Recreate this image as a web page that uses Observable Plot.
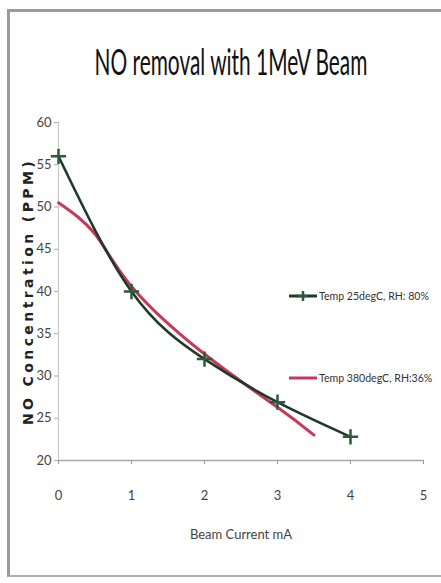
<!DOCTYPE html>
<html><head><meta charset="utf-8">
<script src="https://cdn.jsdelivr.net/npm/d3@7"></script>
<script src="https://cdn.jsdelivr.net/npm/@observablehq/plot@0.6"></script>
<style>
body{margin:0;background:#fff;width:441px;height:583px;overflow:hidden;position:relative;font-family:Lato,sans-serif;}
#frame{position:absolute;left:7px;top:9px;width:440px;height:568px;border-left:3px solid #9a9a9a;border-top:3px solid #9a9a9a;border-bottom:2px solid #b0b0b0;box-sizing:border-box;}
#title{position:absolute;left:0;width:441px;top:39px;text-align:center;font-size:36px;color:#111;transform:scaleX(0.58);transform-origin:225px 0;white-space:nowrap;}
#chart{position:absolute;left:0;top:100px;}
.leg{position:absolute;font-size:12px;color:#333;white-space:nowrap;transform:scaleX(0.88);transform-origin:0 0;}
.ylab text{letter-spacing:3.4px;}
</style></head>
<body>
<div id="frame"></div>
<div id="title">NO removal with 1MeV Beam</div>
<div id="chart"></div>
<div id="legend"></div>
<script>
const seriesNames = ["Temp 25degC, RH: 80%", "Temp 380degC, RH:36%"];
const greenX = [0, 1, 2, 3, 4];
const greenY = [56, 40, 32, 26.9, 22.8];
const redX = [0, 0.5, 1, 2, 3, 3.5];
const redY = [50.5, 46.8, 40.6, 32.6, 26.3, 23];
const xTicks = [0, 1, 2, 3, 4, 5];
const yTicks = [20, 25, 30, 35, 40, 45, 50, 55, 60];
const colors = ["#1e3a2a", "#c63a58"];

const green = greenX.map((x, i) => ({x, y: greenY[i]}));
const red = redX.map((x, i) => ({x, y: redY[i]}));

const plot = Plot.plot({
  width: 441, height: 483,
  marginLeft: 58, marginRight: 18, marginTop: 22, marginBottom: 123,
  style: {fontFamily: 'Lato, sans-serif', background: "transparent"},
  x: {domain: [0, 5]},
  y: {domain: [20, 60]},
  marks: [
    Plot.ruleY([20], {stroke: "#a8a8a8", strokeWidth: 1.5}),
    Plot.ruleX([0], {stroke: "#c8c8c8", strokeWidth: 1.2}),
    Plot.axisX({ticks: xTicks, tickFormat: d3.format("d"), tickSize: 4, tickPadding: 26, fontSize: 13, color: "#444", label: "Beam Current mA", labelAnchor: "center", labelOffset: 78, labelArrow: "none", stroke: "#999"}),
    Plot.axisY({ticks: yTicks, tickSize: 4, tickPadding: 3, fontSize: 13, color: "#444", label: null, stroke: "#aaa"}),
    Plot.text(["NO Concentration (PPM)"], {className: "ylab", frameAnchor: "left", dx: -30, rotate: -90, textAnchor: "middle", fontSize: 14, fontWeight: "bold", fill: "#222", fontFamily: "DejaVu Sans, sans-serif"}),
    Plot.line(red, {x: "x", y: "y", stroke: colors[1], strokeWidth: 3, curve: "natural"}),
    Plot.line(green, {x: "x", y: "y", stroke: colors[0], strokeWidth: 2.6, curve: "natural"}),
    Plot.dot(green, {x: "x", y: "y", symbol: "plus", r: 5, stroke: "#2d5a3c", strokeWidth: 2.5})
  ]
});
document.getElementById("chart").appendChild(plot);

// legend
const leg = document.getElementById("legend");
const items = [{top: 289, name: seriesNames[0], color: colors[0], marker: true}, {top: 371, name: seriesNames[1], color: colors[1], marker: false}];
items.forEach(it => {
  const s = d3.create("svg").attr("width", 30).attr("height", 14)
    .style("position", "absolute").style("left", "288px").style("top", it.top + "px");
  s.append("line").attr("x1", 1).attr("x2", 29).attr("y1", 7).attr("y2", 7).attr("stroke", it.color).attr("stroke-width", 3);
  if (it.marker) {
    s.append("path").attr("d", "M15,2V12M10,7H20").attr("stroke", "#2d5a3c").attr("stroke-width", 2.5);
  }
  leg.appendChild(s.node());
  const t = document.createElement("div");
  t.className = "leg"; t.textContent = it.name;
  t.style.left = "319px"; t.style.top = (it.top - 1) + "px";
  leg.appendChild(t);
});
</script>
</body></html>
